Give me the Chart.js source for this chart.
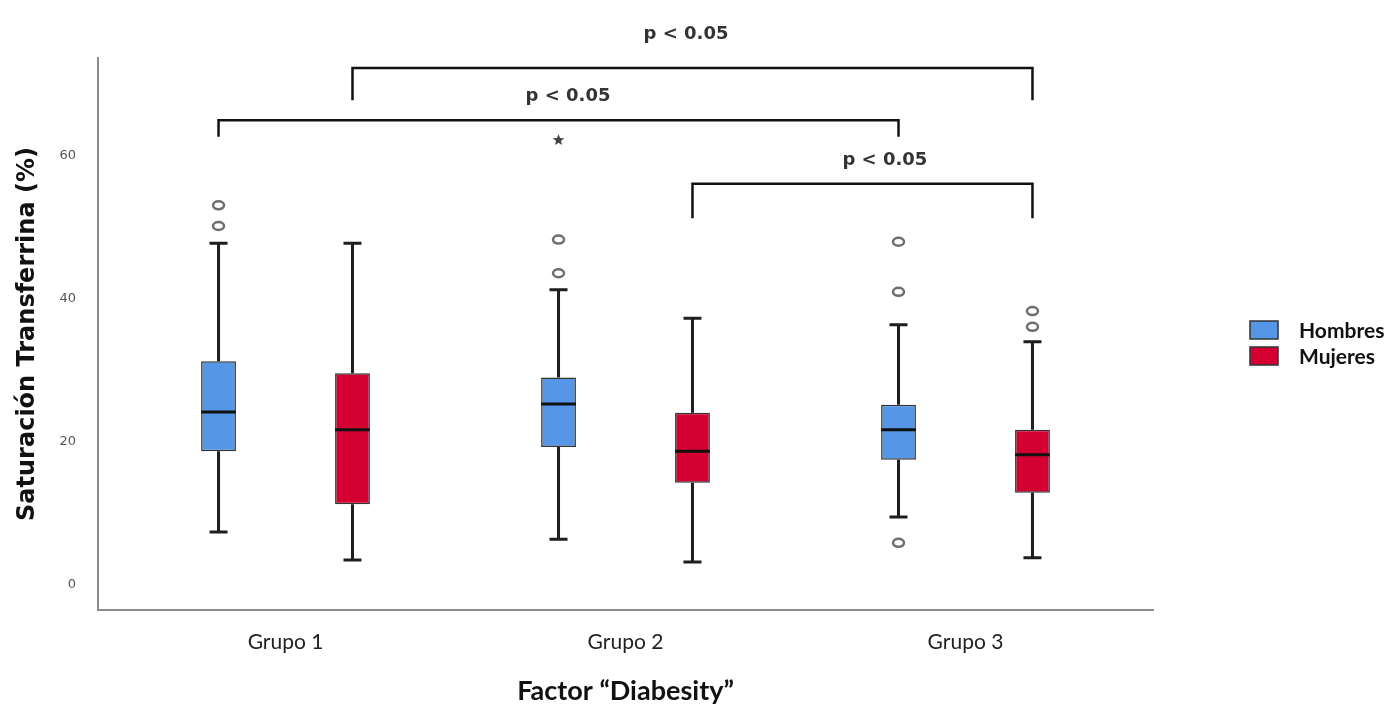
<!DOCTYPE html>
<html><head><meta charset="utf-8">
<script src="https://cdn.jsdelivr.net/npm/chart.js@4.4.0/dist/chart.umd.min.js"></script>
<style>html,body{margin:0;padding:0;background:#fff}#wrap{width:1390px;height:711px;position:relative}</style>
</head><body><div id="wrap"><canvas id="c"></canvas></div>
<script>
const categories = ['Grupo 1', 'Grupo 2', 'Grupo 3'];
const categoryPos = [1, 2, 3];
const seriesNames = ['Hombres', 'Mujeres'];
const yTicks = [0, 20, 40, 60];

const hombresQ1 = [18.7, 19.3, 17.5];
const hombresQ3 = [31.3, 29.0, 25.2];
const hombresMedian = [24.2, 25.3, 21.7];
const hombresLow = [7.4, 6.4, 9.5];
const hombresHigh = [47.8, 41.3, 36.4];
const hombresOutliers = [[50.2, 53.1], [43.6, 48.3], [5.9, 41.0, 48.0]];
const hombresExtremes = [[], [62.2], []];

const mujeresQ1 = [11.3, 14.3, 12.9];
const mujeresQ3 = [29.6, 24.1, 21.7];
const mujeresMedian = [21.7, 18.7, 18.2];
const mujeresLow = [3.5, 3.2, 3.8];
const mujeresHigh = [47.8, 37.3, 34.0];
const mujeresOutliers = [[], [], [36.1, 38.3]];
const mujeresExtremes = [[], [], []];

const pText = 'p < 0.05';
// [fromGroup, fromSeries, toGroup, toSeries, barValue, legEndValue, labelValue, labelX]
const brackets = [
  [0, 1, 2, 1, 72.3, 67.8, 77.0, 2.178],
  [0, 0, 2, 0, 65.0, 62.7, 68.3, 1.831],
  [1, 1, 2, 1, 56.1, 51.3, 59.4, 2.763]
];

const stats = [
  {q1: hombresQ1, q3: hombresQ3, med: hombresMedian, lo: hombresLow, hi: hombresHigh, out: hombresOutliers, ext: hombresExtremes},
  {q1: mujeresQ1, q3: mujeresQ3, med: mujeresMedian, lo: mujeresLow, hi: mujeresHigh, out: mujeresOutliers, ext: mujeresExtremes}
];
const fillColors = ['#5597e6', '#d50032'];

const datasets = stats.map((s, k) => ({
  label: seriesNames[k],
  data: categoryPos.map((x, i) => ({x: x, y: [s.q1[i], s.q3[i]]})),
  backgroundColor: fillColors[k],
  borderColor: '#333333',
  borderWidth: 1.5,
  borderSkipped: false,
  categoryPercentage: 0.788,
  barPercentage: 0.26
}));

const boxPlugin = {
  id: 'boxExtras',
  afterDatasetsDraw(chart) {
    const ctx = chart.ctx, ys = chart.scales.y;
    ctx.save();
    stats.forEach((s, k) => {
      const meta = chart.getDatasetMeta(k);
      meta.data.forEach((bar, i) => {
        const cx = bar.x, w = bar.width;
        const pLo = ys.getPixelForValue(s.lo[i]), pHi = ys.getPixelForValue(s.hi[i]);
        const pQ1 = ys.getPixelForValue(s.q1[i]), pQ3 = ys.getPixelForValue(s.q3[i]);
        ctx.strokeStyle = '#1e1e1e';
        ctx.lineWidth = 3;
        ctx.beginPath();
        ctx.moveTo(cx, pQ3); ctx.lineTo(cx, pHi);
        ctx.moveTo(cx, pQ1); ctx.lineTo(cx, pLo);
        ctx.stroke();
        ctx.beginPath();
        ctx.moveTo(cx - 9, pHi); ctx.lineTo(cx + 9, pHi);
        ctx.moveTo(cx - 9, pLo); ctx.lineTo(cx + 9, pLo);
        ctx.stroke();
        const pm = ys.getPixelForValue(s.med[i]);
        ctx.strokeStyle = '#111';
        ctx.lineWidth = 3;
        ctx.beginPath();
        ctx.moveTo(cx - w / 2, pm); ctx.lineTo(cx + w / 2, pm);
        ctx.stroke();
        ctx.strokeStyle = '#6e6e6e';
        ctx.lineWidth = 2.5;
        s.out[i].forEach(v => {
          ctx.beginPath();
          ctx.ellipse(cx, ys.getPixelForValue(v), 5.5, 4, 0, 0, Math.PI * 2);
          ctx.stroke();
        });
        ctx.fillStyle = '#444';
        s.ext[i].forEach(v => {
          const py = ys.getPixelForValue(v);
          ctx.beginPath();
          for (let j = 0; j < 10; j++) {
            const r = j % 2 === 0 ? 6 : 2.6;
            const a = -Math.PI / 2 + j * Math.PI / 5;
            const px = cx + r * Math.cos(a), yy = py + r * Math.sin(a);
            if (j === 0) ctx.moveTo(px, yy); else ctx.lineTo(px, yy);
          }
          ctx.closePath();
          ctx.fill();
        });
      });
    });
    ctx.restore();
  },
  afterDraw(chart) {
    const ctx = chart.ctx, ys = chart.scales.y, xs = chart.scales.x;
    ctx.save();
    brackets.forEach(b => {
      const x1 = chart.getDatasetMeta(b[1]).data[b[0]].x;
      const x2 = chart.getDatasetMeta(b[3]).data[b[2]].x;
      const yb = ys.getPixelForValue(b[4]), ye = ys.getPixelForValue(b[5]);
      ctx.strokeStyle = '#111';
      ctx.lineWidth = 2.5;
      ctx.lineJoin = 'miter';
      ctx.beginPath();
      ctx.moveTo(x1, ye); ctx.lineTo(x1, yb); ctx.lineTo(x2, yb); ctx.lineTo(x2, ye);
      ctx.stroke();
      ctx.fillStyle = '#333';
      ctx.font = 'bold 18px "DejaVu Sans"';
      ctx.textAlign = 'center';
      ctx.textBaseline = 'middle';
      ctx.fillText(pText, xs.getPixelForValue(b[7]), ys.getPixelForValue(b[6]));
    });
    const lx = 1250, ly = [330, 356];
    seriesNames.forEach((n, k) => {
      ctx.fillStyle = fillColors[k];
      ctx.fillRect(lx, ly[k] - 9, 28, 18);
      ctx.strokeStyle = '#333';
      ctx.lineWidth = 1.5;
      ctx.strokeRect(lx, ly[k] - 9, 28, 18);
      ctx.fillStyle = '#111';
      ctx.font = 'bold 21px Lato';
      ctx.textAlign = 'left';
      ctx.textBaseline = 'middle';
      ctx.fillText(n, 1299, ly[k] + 1);
    });
    ctx.restore();
  }
};

new Chart(document.getElementById('c'), {
  type: 'bar',
  data: {datasets: datasets},
  plugins: [boxPlugin],
  options: {
    responsive: true,
    maintainAspectRatio: false,
    animation: false,
    layout: {padding: {top: 58, right: 237, left: 0, bottom: 0}},
    plugins: {legend: {display: false}, tooltip: {enabled: false}},
    scales: {
      x: {
        type: 'linear',
        offset: false,
        min: 0.4485,
        max: 3.5515,
        afterBuildTicks: s => { s.ticks = categoryPos.map(v => ({value: v})); },
        afterFit: s => { s.height = 101; },
        grid: {display: false, drawTicks: false, offset: false},
        border: {display: true, color: '#8c8c8c', width: 2},
        ticks: {
          padding: 20,
          color: '#222',
          font: {family: 'Lato', size: 21},
          callback: (v) => categories[categoryPos.indexOf(v)]
        },
        title: {display: true, text: 'Factor “Diabesity”', color: '#111',
          font: {family: 'Lato', size: 27, weight: 'bold'}, padding: {top: 3, bottom: 4}}
      },
      y: {
        min: -3.5,
        max: 73.7,
        afterBuildTicks: s => { s.ticks = yTicks.map(v => ({value: v})); },
        afterFit: s => { s.width = 98; },
        grid: {display: false, drawTicks: false},
        border: {display: true, color: '#8c8c8c', width: 2},
        ticks: {padding: 22, color: '#555', font: {family: 'DejaVu Sans', size: 13}},
        title: {display: true, text: 'Saturación Transferrina (%)', color: '#111',
          font: {family: 'DejaVu Sans', size: 24, weight: 'bold'}, padding: {top: 13, bottom: 0}}
      }
    }
  }
});
</script>
</body></html>
